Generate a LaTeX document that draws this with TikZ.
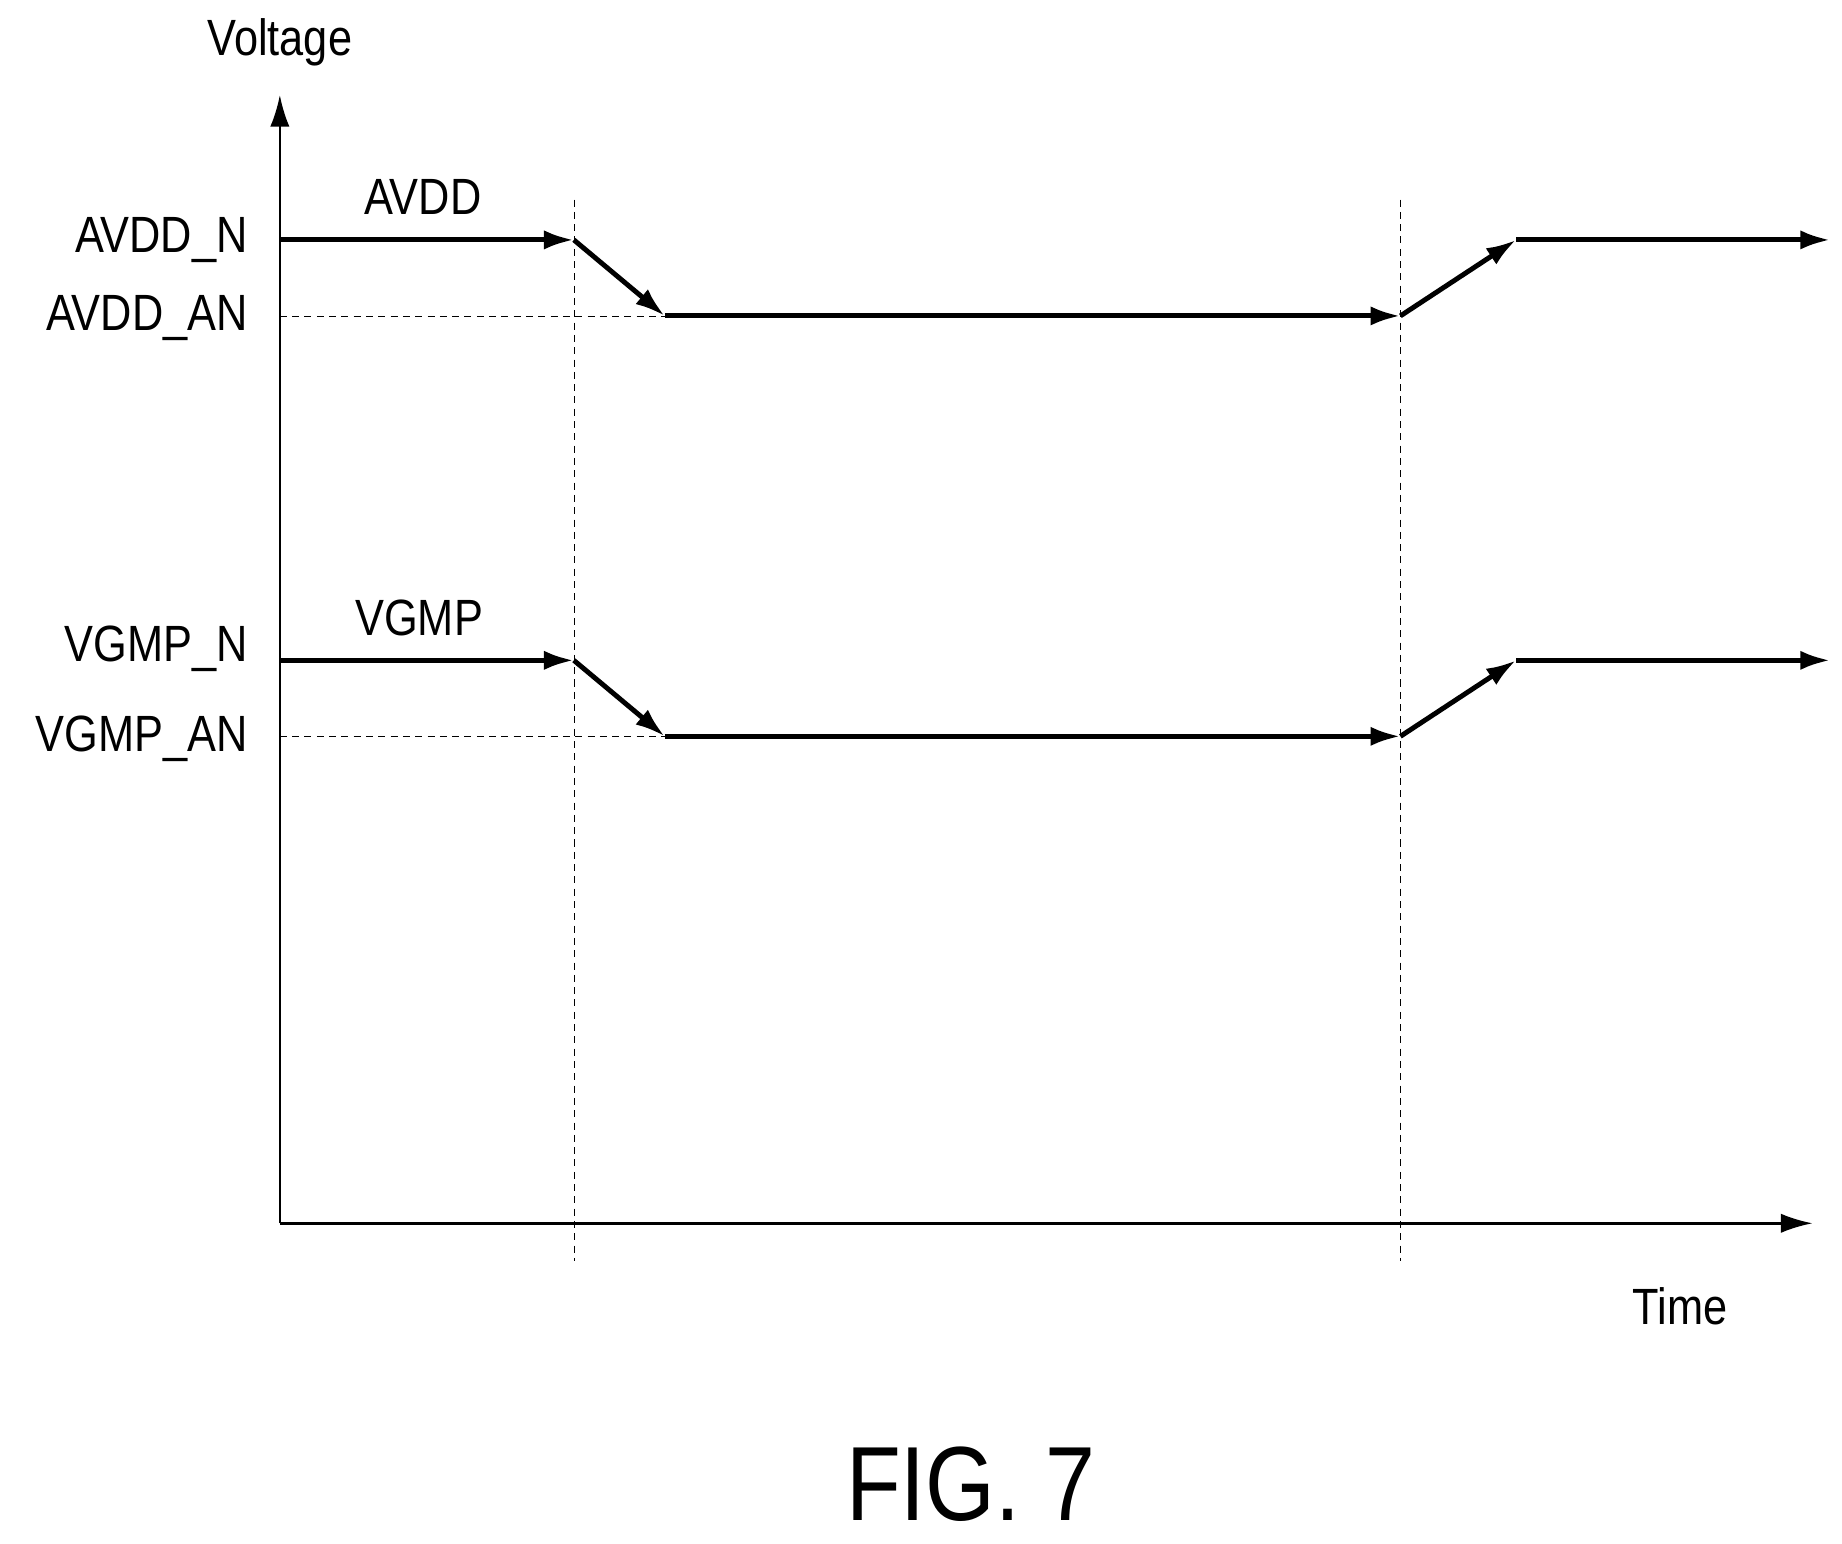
\documentclass[tikz,border=0pt]{standalone}
\usepackage{fontspec}
\setmainfont{Liberation Sans}[FakeStretch=0.85]
\usetikzlibrary{arrows.meta}

\tikzset{
  sig/.style={line width=2.8pt, -{Latex[length=17pt,width=11pt]}},
  guide/.style={thin, dashed, dash pattern=on 4pt off 3pt},
  lbl/.style={font=\fontsize{29}{32}\selectfont, inner sep=2pt}
}

\begin{document}
\begin{tikzpicture}[x=0.0236cm, y=-0.02374cm]

\useasboundingbox (0,0) rectangle (1560,1300) ;

% axes
\coordinate (o) at (237,1030) ;
\coordinate (vtop) at (237,80) ;
\coordinate (tend) at (1535,1030) ;
\draw [line width=1.4pt, -{Latex[length=18pt,width=11pt]}] (o) to (vtop) ;
\draw [line width=1.4pt, -{Latex[length=18pt,width=11pt]}] (o) to (tend) ;

\node [lbl] (volt) at (237,36) {Voltage} ;
\node [lbl] (time) at (1423,1100) {Time} ;

% guide lines
\coordinate (ga) at (486,168) ;
\coordinate (gb) at (486,1062) ;
\coordinate (gc) at (1186,168) ;
\coordinate (gd) at (1186,1062) ;
\draw [guide] (ga) to (gb) ;
\draw [guide] (gc) to (gd) ;

% AVDD
\coordinate (a0) at (237,202) ;
\coordinate (a1) at (486,202) ;
\coordinate (a2) at (563,266) ;
\coordinate (a3) at (1186,266) ;
\coordinate (a4) at (1284,202) ;
\coordinate (a5) at (1550,202) ;
\coordinate (aal) at (237,266) ;
\draw [guide] (aal) to (a2) ;
\draw [sig] (a0) to (a1) ;
\draw [sig] (a1) to (a2) ;
\draw [sig] (a2) to (a3) ;
\draw [sig] (a3) to (a4) ;
\draw [sig] (a4) to (a5) ;
\node [lbl, anchor=east] (avddn) at (213,202) {AVDD\_N} ;
\node [lbl, anchor=east] (avddan) at (213,268) {AVDD\_AN} ;
\node [lbl] (avdd) at (358,166) {AVDD} ;

% VGMP
\coordinate (v0) at (237,556) ;
\coordinate (v1) at (486,556) ;
\coordinate (v2) at (563,620) ;
\coordinate (v3) at (1186,620) ;
\coordinate (v4) at (1284,556) ;
\coordinate (v5) at (1550,556) ;
\coordinate (val) at (237,620) ;
\draw [guide] (val) to (v2) ;
\draw [sig] (v0) to (v1) ;
\draw [sig] (v1) to (v2) ;
\draw [sig] (v2) to (v3) ;
\draw [sig] (v3) to (v4) ;
\draw [sig] (v4) to (v5) ;
\node [lbl, anchor=east] (vgmpn) at (213,546) {VGMP\_N} ;
\node [lbl, anchor=east] (vgmpan) at (213,622) {VGMP\_AN} ;
\node [lbl] (vgmp) at (355,520) {VGMP} ;

\node [font=\fontsize{60}{64}\selectfont] (fig) at (822,1250) {FIG. 7} ;

\end{tikzpicture}
\end{document}
